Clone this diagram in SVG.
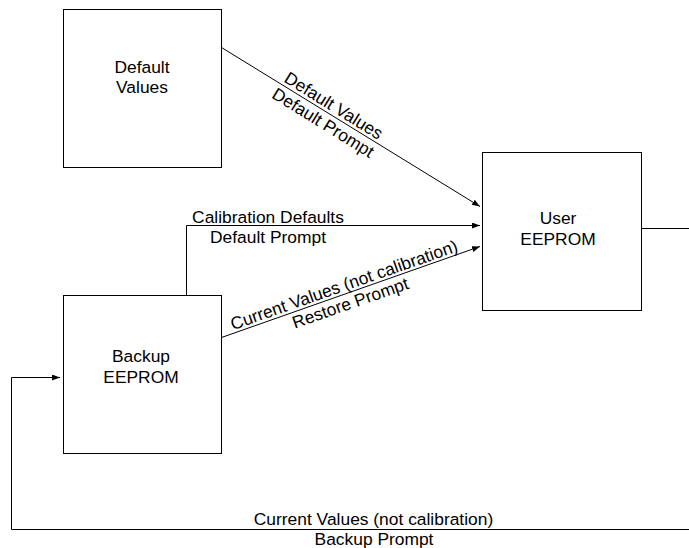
<svg xmlns="http://www.w3.org/2000/svg" width="689" height="548" viewBox="0 0 689 548">
<defs>
<marker id="arr" markerUnits="userSpaceOnUse" markerWidth="9" markerHeight="7" refX="8" refY="3" orient="auto">
<path d="M0,0 L8,3 L0,6 z" fill="#000"/>
</marker>
<style>
.box{fill:#fff;stroke:#000;stroke-width:1}
.ln{fill:none;stroke:#000;stroke-width:1}
text{font-family:"Liberation Sans",Arial,Helvetica,sans-serif;font-size:17.4px;fill:#000}
.c{text-anchor:middle}
</style>
</defs>
<rect width="689" height="548" fill="#fff"/>
<g id="connectors">
<path class="ln" d="M221.5,47.5 L480,206.5" marker-end="url(#arr)"/>
<path class="ln" d="M186.5,295 L186.5,225.5 L480,225.5" marker-end="url(#arr)"/>
<path class="ln" d="M221.5,337.5 L480,246.5" marker-end="url(#arr)"/>
<path class="ln" d="M641,228.5 L689,228.5"/>
<path class="ln" d="M689,529.5 L11.5,529.5 L11.5,377.5 L60,377.5" marker-end="url(#arr)"/>
<g transform="translate(329,113.3) rotate(31.7)">
<text class="c" x="0" y="-3">Default Values</text>
<text class="c" x="0" y="17">Default Prompt</text>
</g>
<text class="c" x="268" y="222.7">Calibration Defaults</text>
<text class="c" x="268" y="243.3">Default Prompt</text>
<g transform="translate(347,293.4) rotate(-19.3)">
<text class="c" x="0" y="-3">Current Values (not calibration)</text>
<text class="c" x="0" y="16">Restore Prompt</text>
</g>
<text class="c" x="373.5" y="525">Current Values (not calibration)</text>
<text class="c" x="374" y="545">Backup Prompt</text>
</g>
<g id="default-values">
<rect class="box" x="63.5" y="9.5" width="158" height="158"/>
<text class="c" x="142" y="72.7">Default</text>
<text class="c" x="142" y="93.3">Values</text>
</g>
<g id="user-eeprom">
<rect class="box" x="482.5" y="152.5" width="159" height="158"/>
<text class="c" x="558" y="224">User</text>
<text class="c" x="558" y="245">EEPROM</text>
</g>
<g id="backup-eeprom">
<rect class="box" x="63.5" y="295.5" width="158" height="158"/>
<text class="c" x="141" y="361.7">Backup</text>
<text class="c" x="141" y="383.3">EEPROM</text>
</g>
</svg>
